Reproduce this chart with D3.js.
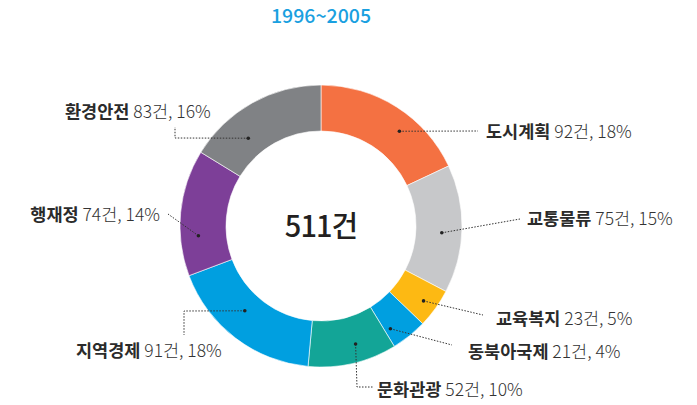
<!DOCTYPE html>
<html>
<head>
<meta charset="utf-8">
<script src="https://cdn.jsdelivr.net/npm/d3@7"></script>
<style>
  html, body { margin: 0; padding: 0; background: #fff; }
  svg { display: block; font-family: "Noto Sans CJK KR", "Noto Sans", sans-serif; }
</style>
</head>
<body>
<script>
'use strict';

// data, clockwise from 12 o'clock
var categories = ['도시계획', '교통물류', '교육복지', '동북아국제', '문화관광', '지역경제', '행재정', '환경안전'];
var counts     = [92, 75, 23, 21, 52, 91, 74, 83];
var percents   = [18, 15, 5, 4, 10, 18, 14, 16];
var colors     = ['#f47142', '#c7c8ca', '#fdb913', '#009fe0', '#13a597', '#009fe0', '#7d3f98', '#808285'];
var titleText  = '1996~2005';
var totalText  = '511건';

// leader layout: dot angle offset from slice middle (deg), dot radius,
// then bend points and label anchor, relative to the donut centre
var leaders = [
  { da: 7.2,  r: 123, pts: [[157, -95]],             tx: 165, ty: -88, anchor: 'start' },
  { da: 2.0,  r: 121, pts: [[199, -7]],              tx: 206, ty: -1,  anchor: 'start' },
  { da: 0.4,  r: 127, pts: [[162, 89]],              tx: 175, ty: 99,  anchor: 'start' },
  { da: 4.7,  r: 124, pts: [[131, 119]],             tx: 147, ty: 132, anchor: 'start' },
  { da: -3.3, r: 123, pts: [[36, 161], [52, 161]],   tx: 56,  ty: 170, anchor: 'start' },
  { da: 4.6,  r: 114, pts: [[-137, 85], [-137, 109]], tx: -245, ty: 131, anchor: 'start' },
  { da: -10,  r: 123, pts: [[-153, -12]],            tx: -161, ty: -5, anchor: 'end' },
  { da: -10.4, r: 114, pts: [[-146, -88], [-146, -99]], tx: -256, ty: -108, anchor: 'start' }
];

var width = 697,
    height = 405,
    cx = 321,
    cy = 226,
    outerR = 141,
    innerR = 95;

var svg = d3.select('body').append('svg')
  .attr('width', width)
  .attr('height', height);

svg.append('text')
  .attr('x', cx)
  .attr('y', 23)
  .attr('text-anchor', 'middle')
  .style('font-size', '19.5px')
  .style('font-weight', 500)
  .style('fill', '#1aa0e0')
  .text(titleText);

var pie = d3.pie().sort(null).value(function(d) { return d; });
var arcs = pie(counts);

var arc = d3.arc()
  .innerRadius(innerR)
  .outerRadius(outerR);

var g = svg.append('g')
  .attr('transform', 'translate(' + cx + ',' + cy + ')');

g.selectAll('path.slice')
  .data(arcs)
  .enter().append('path')
    .attr('class', 'slice')
    .attr('d', arc)
    .style('fill', function(d, i) { return colors[i]; })
    .style('stroke', '#fff')
    .style('stroke-width', 0.6);

g.append('text')
  .attr('x', 0)
  .attr('y', 11)
  .attr('text-anchor', 'middle')
  .style('font-size', '29px')
  .style('font-weight', 500)
  .style('fill', '#231f20')
  .style('letter-spacing', '-1px')
  .text(totalText);

var labels = g.selectAll('g.label')
  .data(arcs)
  .enter().append('g')
    .attr('class', 'label');

function dotPos(d, i) {
  var a = (d.startAngle + d.endAngle) / 2 + leaders[i].da * Math.PI / 180;
  var r = leaders[i].r;
  return [Math.sin(a) * r, -Math.cos(a) * r];
}

labels.append('path')
  .attr('d', function(d, i) {
    return d3.line()([dotPos(d, i)].concat(leaders[i].pts));
  })
  .style('fill', 'none')
  .style('stroke', '#333')
  .style('stroke-width', 1)
  .style('stroke-dasharray', '1.5,1.5');

labels.append('circle')
  .attr('cx', function(d, i) { return dotPos(d, i)[0]; })
  .attr('cy', function(d, i) { return dotPos(d, i)[1]; })
  .attr('r', 1.8)
  .style('fill', '#222');

var txt = labels.append('text')
  .attr('x', function(d, i) { return leaders[i].tx; })
  .attr('y', function(d, i) { return leaders[i].ty; })
  .attr('text-anchor', function(d, i) { return leaders[i].anchor; })
  .style('font-size', '17.5px');

txt.append('tspan')
  .style('font-weight', 700)
  .style('fill', '#2b2b2b')
  .text(function(d, i) { return categories[i]; });

txt.append('tspan')
  .style('font-weight', 300)
  .style('fill', '#333')
  .text(function(d, i) { return ' ' + counts[i] + '건, ' + percents[i] + '%'; });
</script>
</body>
</html>
